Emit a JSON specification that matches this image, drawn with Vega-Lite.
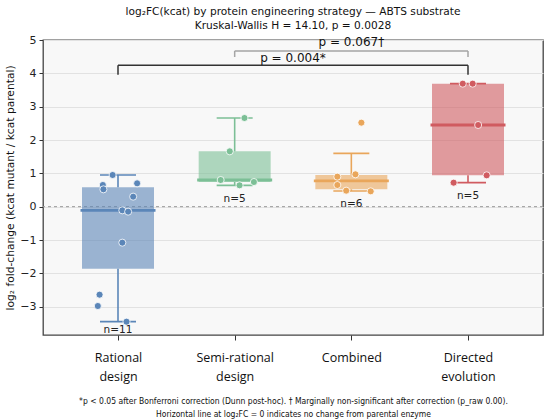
{
  "$schema": "https://vega.github.io/schema/vega-lite/v6.json",
  "autosize": "none",
  "padding": {"left": 43, "top": 40, "right": 7, "bottom": 85},
  "width": 500,
  "height": 295,
  "background": "white",
  "title": {
    "text": ["log₂FC(kcat) by protein engineering strategy — ABTS substrate", "Kruskal-Wallis H = 14.10, p = 0.0028"],
    "font": "DejaVu Sans",
    "fontSize": 10.6,
    "fontWeight": "normal",
    "color": "#111",
    "anchor": "middle",
    "lineHeight": 14,
    "offset": 2
  },
  "datasets": {
    "points": [
      {"group": "Rational design", "value": 0.95, "x": -0.046},
      {"group": "Rational design", "value": 0.65, "x": -0.13},
      {"group": "Rational design", "value": 0.52, "x": -0.125},
      {"group": "Rational design", "value": 0.70, "x": 0.164},
      {"group": "Rational design", "value": 0.30, "x": 0.13},
      {"group": "Rational design", "value": -0.11, "x": 0.037},
      {"group": "Rational design", "value": -0.15, "x": 0.087},
      {"group": "Rational design", "value": -1.08, "x": 0.037},
      {"group": "Rational design", "value": -2.64, "x": -0.158},
      {"group": "Rational design", "value": -2.98, "x": -0.173},
      {"group": "Rational design", "value": -3.45, "x": 0.073},
      {"group": "Semi-rational design", "value": 2.66, "x": 1.084},
      {"group": "Semi-rational design", "value": 1.66, "x": 0.958},
      {"group": "Semi-rational design", "value": 0.80, "x": 0.88},
      {"group": "Semi-rational design", "value": 0.64, "x": 1.042},
      {"group": "Semi-rational design", "value": 0.74, "x": 1.165},
      {"group": "Combined", "value": 2.52, "x": 2.086},
      {"group": "Combined", "value": 0.97, "x": 2.035},
      {"group": "Combined", "value": 0.90, "x": 1.88},
      {"group": "Combined", "value": 0.65, "x": 1.88},
      {"group": "Combined", "value": 0.48, "x": 1.956},
      {"group": "Combined", "value": 0.46, "x": 2.166},
      {"group": "Directed evolution", "value": 3.69, "x": 2.955},
      {"group": "Directed evolution", "value": 3.69, "x": 3.04},
      {"group": "Directed evolution", "value": 2.45, "x": 3.087},
      {"group": "Directed evolution", "value": 0.94, "x": 3.16},
      {"group": "Directed evolution", "value": 0.72, "x": 2.877}
    ],
    "boxes": [
      {"group": "Rational design", "slot": 0, "lo": -3.45, "q1": -1.86, "med": -0.11, "q3": 0.585, "hi": 0.95, "n": "n=11", "n_y": -3.7},
      {"group": "Semi-rational design", "slot": 1, "lo": 0.64, "q1": 0.74, "med": 0.80, "q3": 1.66, "hi": 2.66, "n": "n=5", "n_y": 0.22},
      {"group": "Combined", "slot": 2, "lo": 0.47, "q1": 0.52, "med": 0.775, "q3": 0.95, "hi": 1.6, "n": "n=6", "n_y": 0.08},
      {"group": "Directed evolution", "slot": 3, "lo": 0.72, "q1": 0.94, "med": 2.45, "q3": 3.69, "hi": 3.69, "n": "n=5", "n_y": 0.32}
    ],
    "brackets": [
      {"left": 0, "right": 3, "y": 4.24, "foot": 3.96, "tone": "sig"},
      {"left": 1, "right": 3, "y": 4.67, "foot": 4.49, "tone": "trend"}
    ],
    "pvalues": [
      {"x": 1.5, "y": 4.47, "label": "p = 0.004*"},
      {"x": 2, "y": 4.95, "label": "p = 0.067†"}
    ]
  },
  "layer": [
    {
      "data": {"values": [{"zero": 0}]},
      "mark": {"type": "rule", "color": "#999", "strokeDash": [3, 3], "strokeWidth": 1},
      "encoding": {"y": {"field": "zero", "type": "quantitative"}}
    },
    {
      "data": {"name": "boxes"},
      "mark": {"type": "bar", "width": 72, "fillOpacity": 0.6, "strokeWidth": 1, "strokeOpacity": 0.8},
      "encoding": {
        "x": {"field": "slot", "type": "quantitative"},
        "y": {"field": "q1", "type": "quantitative"},
        "y2": {"field": "q3"},
        "color": {"field": "group", "type": "nominal"}
      }
    },
    {
      "data": {"name": "boxes"},
      "mark": {"type": "rule", "strokeWidth": 1.6},
      "encoding": {
        "x": {"field": "slot", "type": "quantitative"},
        "y": {"field": "lo", "type": "quantitative"},
        "y2": {"field": "q1"},
        "color": {"field": "group", "type": "nominal"}
      }
    },
    {
      "data": {"name": "boxes"},
      "mark": {"type": "rule", "strokeWidth": 1.6},
      "encoding": {
        "x": {"field": "slot", "type": "quantitative"},
        "y": {"field": "q3", "type": "quantitative"},
        "y2": {"field": "hi"},
        "color": {"field": "group", "type": "nominal"}
      }
    },
    {
      "data": {"name": "boxes"},
      "mark": {"type": "tick", "orient": "horizontal", "size": 36, "thickness": 1.6, "opacity": 1},
      "encoding": {
        "x": {"field": "slot", "type": "quantitative"},
        "y": {"field": "lo", "type": "quantitative"},
        "color": {"field": "group", "type": "nominal"}
      }
    },
    {
      "data": {"name": "boxes"},
      "mark": {"type": "tick", "orient": "horizontal", "size": 36, "thickness": 1.6, "opacity": 1},
      "encoding": {
        "x": {"field": "slot", "type": "quantitative"},
        "y": {"field": "hi", "type": "quantitative"},
        "color": {"field": "group", "type": "nominal"}
      }
    },
    {
      "data": {"name": "boxes"},
      "mark": {"type": "tick", "orient": "horizontal", "size": 75, "thickness": 2.8, "opacity": 1},
      "encoding": {
        "x": {"field": "slot", "type": "quantitative"},
        "y": {"field": "med", "type": "quantitative"},
        "color": {"field": "group", "type": "nominal"}
      }
    },
    {
      "data": {"name": "points"},
      "mark": {"type": "point", "filled": true, "size": 50, "opacity": 1, "stroke": "white", "strokeWidth": 0.8},
      "encoding": {
        "x": {"field": "x", "type": "quantitative"},
        "y": {"field": "value", "type": "quantitative"},
        "fill": {"field": "group", "type": "nominal"}
      }
    },
    {
      "data": {"name": "boxes"},
      "mark": {"type": "text", "font": "DejaVu Sans", "fontSize": 10.5, "color": "#222", "baseline": "middle"},
      "encoding": {
        "x": {"field": "slot", "type": "quantitative"},
        "y": {"field": "n_y", "type": "quantitative"},
        "text": {"field": "n"}
      }
    },
    {
      "data": {"name": "brackets"},
      "mark": {"type": "rule", "strokeWidth": 1.5},
      "encoding": {
        "x": {"field": "left", "type": "quantitative"},
        "x2": {"field": "right"},
        "y": {"field": "y", "type": "quantitative"},
        "color": {"condition": {"test": "datum.tone === 'trend'", "value": "#a5a5a5"}, "value": "#333"}
      }
    },
    {
      "data": {"name": "brackets"},
      "mark": {"type": "rule", "strokeWidth": 1.5},
      "encoding": {
        "x": {"field": "left", "type": "quantitative"},
        "y": {"field": "foot", "type": "quantitative"},
        "y2": {"field": "y"},
        "color": {"condition": {"test": "datum.tone === 'trend'", "value": "#a5a5a5"}, "value": "#333"}
      }
    },
    {
      "data": {"name": "brackets"},
      "mark": {"type": "rule", "strokeWidth": 1.5},
      "encoding": {
        "x": {"field": "right", "type": "quantitative"},
        "y": {"field": "foot", "type": "quantitative"},
        "y2": {"field": "y"},
        "color": {"condition": {"test": "datum.tone === 'trend'", "value": "#a5a5a5"}, "value": "#333"}
      }
    },
    {
      "data": {"name": "pvalues"},
      "mark": {"type": "text", "font": "DejaVu Sans", "fontSize": 12, "color": "#111", "baseline": "middle"},
      "encoding": {
        "x": {"field": "x", "type": "quantitative"},
        "y": {"field": "y", "type": "quantitative"},
        "text": {"field": "label"}
      }
    }
  ],
  "encoding": {
    "x": {
      "type": "quantitative",
      "scale": {"domain": [-0.6, 3.6], "nice": false, "zero": false},
      "axis": {
        "title": ["*p < 0.05 after Bonferroni correction (Dunn post-hoc).  † Marginally non-significant after correction (p_raw 0.00).", "Horizontal line at log₂FC = 0 indicates no change from parental enzyme"],
        "values": [0, 1, 2, 3],
        "labelExpr": "datum.value == 0 ? ['Rational', 'design'] : datum.value == 1 ? ['Semi-rational', 'design'] : datum.value == 2 ? 'Combined' : ['Directed', 'evolution']"
      }
    },
    "y": {
      "type": "quantitative",
      "scale": {"domain": [-3.85, 5], "nice": false, "zero": false},
      "axis": {"title": "log₂ fold-change (kcat mutant / kcat parental)", "values": [-3, -2, -1, 0, 1, 2, 3, 4, 5]}
    },
    "color": {
      "type": "nominal",
      "scale": {"domain": ["Rational design", "Semi-rational design", "Combined", "Directed evolution"], "range": ["#5b86b8", "#7cbf96", "#e9a65b", "#d05b60"]},
      "legend": null
    },
    "fill": {
      "type": "nominal",
      "scale": {"domain": ["Rational design", "Semi-rational design", "Combined", "Directed evolution"], "range": ["#5b86b8", "#7cbf96", "#e9a65b", "#d05b60"]},
      "legend": null
    }
  },
  "config": {
    "view": {"stroke": "#444", "strokeWidth": 1.3, "fill": "#f8f8f8"},
    "axisX": {
      "titleFont": "DejaVu Sans Condensed",
      "titleFontSize": 8.5,
      "titleFontWeight": "normal",
      "titleColor": "#111",
      "titleLineHeight": 12.5,
      "titlePadding": 14,
      "labelAngle": 0,
      "labelFont": "Open Sans",
      "labelFontSize": 12.5,
      "labelColor": "#111",
      "labelLineHeight": 19,
      "labelPadding": 11,
      "labelFlush": false,
      "tickColor": "#333",
      "tickSize": 5,
      "domain": false,
      "grid": false
    },
    "axisY": {
      "titleFont": "DejaVu Sans",
      "titleFontSize": 10.7,
      "titleFontWeight": "normal",
      "titleColor": "#111",
      "titlePadding": 4,
      "labelFont": "DejaVu Sans",
      "labelFontSize": 11,
      "labelColor": "#222",
      "labelPadding": 3,
      "tickColor": "#333",
      "tickSize": 4,
      "domain": false,
      "grid": true,
      "gridColor": "#e2e2e2",
      "gridWidth": 1
    }
  }
}
